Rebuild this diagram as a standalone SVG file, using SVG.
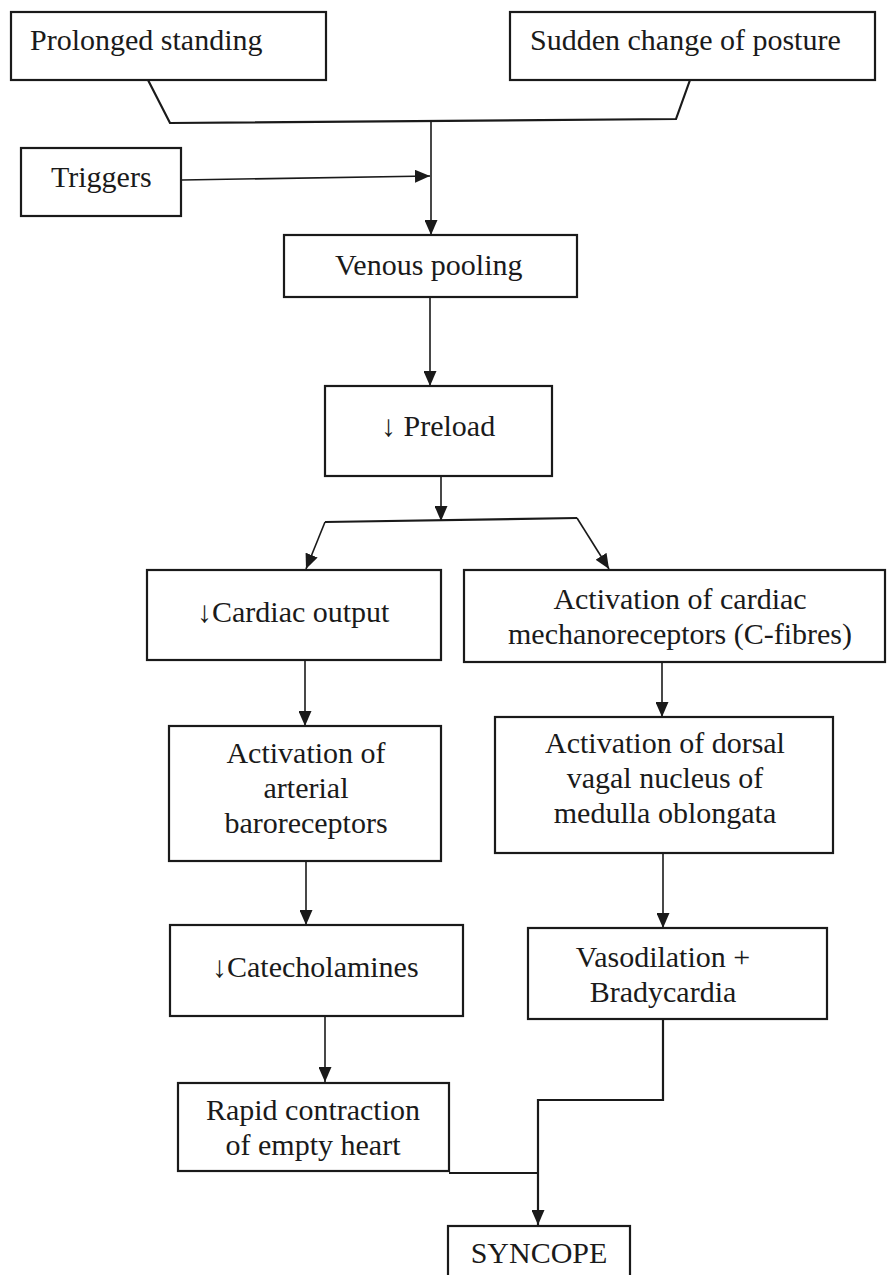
<svg xmlns="http://www.w3.org/2000/svg" width="887" height="1275" viewBox="0 0 887 1275">
<style>
.box{fill:#fff;stroke:#1a1a1a;stroke-width:2.2}
.t{font-family:"Liberation Serif","Times New Roman",serif;font-size:30px;fill:#1a1a1a}
.m{text-anchor:middle}
.c{fill:none;stroke:#1a1a1a;stroke-width:1.6}
.cb{fill:none;stroke:#1a1a1a;stroke-width:2.2}
</style>
<defs>
<marker id="ah" markerUnits="userSpaceOnUse" viewBox="0 0 15 13" refX="15" refY="6.5" markerWidth="15" markerHeight="13" orient="auto">
<path d="M0,0 L15,6.5 L0,13 z" fill="#1a1a1a"/>
</marker>
</defs>
<rect width="887" height="1275" fill="#fff"/>
<g id="connectors">
<path class="cb" d="M148,80 L170,123 L676,119 L690,80"/>
<line class="c" x1="431" y1="121" x2="431" y2="235" marker-end="url(#ah)"/>
<line class="c" x1="182" y1="180" x2="430" y2="176" marker-end="url(#ah)"/>
<line class="c" x1="430" y1="297" x2="430" y2="386" marker-end="url(#ah)"/>
<line class="c" x1="441" y1="476" x2="441" y2="521" marker-end="url(#ah)"/>
<path class="cb" d="M325,522 L577,518"/>
<line class="c" x1="325" y1="522" x2="306" y2="569" marker-end="url(#ah)"/>
<line class="c" x1="577" y1="518" x2="609" y2="569" marker-end="url(#ah)"/>
<line class="c" x1="305" y1="660" x2="305" y2="726" marker-end="url(#ah)"/>
<line class="c" x1="662" y1="663" x2="662" y2="717" marker-end="url(#ah)"/>
<line class="c" x1="306" y1="861" x2="306" y2="925" marker-end="url(#ah)"/>
<line class="c" x1="663" y1="853" x2="663" y2="928" marker-end="url(#ah)"/>
<line class="c" x1="325" y1="1016" x2="325" y2="1082" marker-end="url(#ah)"/>
<path class="cb" d="M663,1019 L663,1100 L538,1100 L538,1225" marker-end="url(#ah)"/>
<path class="cb" d="M449,1173 L538,1173"/>
</g>
<g id="n-prolonged"><rect class="box" x="11" y="12" width="315" height="68"/><text class="t" x="30" y="50">Prolonged standing</text></g>
<g id="n-sudden"><rect class="box" x="510" y="12" width="365" height="68"/><text class="t" x="530" y="50">Sudden change of posture</text></g>
<g id="n-triggers"><rect class="box" x="21" y="148" width="160" height="68"/><text class="t" x="51" y="187">Triggers</text></g>
<g id="n-venous"><rect class="box" x="284" y="235" width="293" height="62"/><text class="t" x="335" y="275">Venous pooling</text></g>
<g id="n-preload"><rect class="box" x="325" y="386" width="227" height="90"/><text class="t" x="381" y="436">↓ Preload</text></g>
<g id="n-cardiac"><rect class="box" x="147" y="570" width="294" height="90"/><text class="t" x="197" y="622">↓Cardiac output</text></g>
<g id="n-mechano"><rect class="box" x="464" y="570" width="421" height="92"/><text class="t m" x="680" y="609">Activation of cardiac</text><text class="t m" x="680" y="644">mechanoreceptors (C-fibres)</text></g>
<g id="n-baro"><rect class="box" x="169" y="726" width="272" height="135"/><text class="t m" x="306" y="763">Activation of</text><text class="t m" x="306" y="798">arterial</text><text class="t m" x="306" y="833">baroreceptors</text></g>
<g id="n-vagal"><rect class="box" x="495" y="717" width="338" height="136"/><text class="t m" x="665" y="753">Activation of dorsal</text><text class="t m" x="665" y="788">vagal nucleus of</text><text class="t m" x="665" y="823">medulla oblongata</text></g>
<g id="n-catechol"><rect class="box" x="170" y="925" width="293" height="91"/><text class="t" x="212" y="977">↓Catecholamines</text></g>
<g id="n-vaso"><rect class="box" x="528" y="928" width="299" height="91"/><text class="t m" x="663" y="967">Vasodilation +</text><text class="t m" x="663" y="1002">Bradycardia</text></g>
<g id="n-rapid"><rect class="box" x="178" y="1083" width="271" height="88"/><text class="t m" x="313" y="1120">Rapid contraction</text><text class="t m" x="313" y="1155">of empty heart</text></g>
<g id="n-syncope"><rect class="box" x="448" y="1226" width="182" height="70"/><text class="t m" x="539" y="1263">SYNCOPE</text></g>
</svg>
